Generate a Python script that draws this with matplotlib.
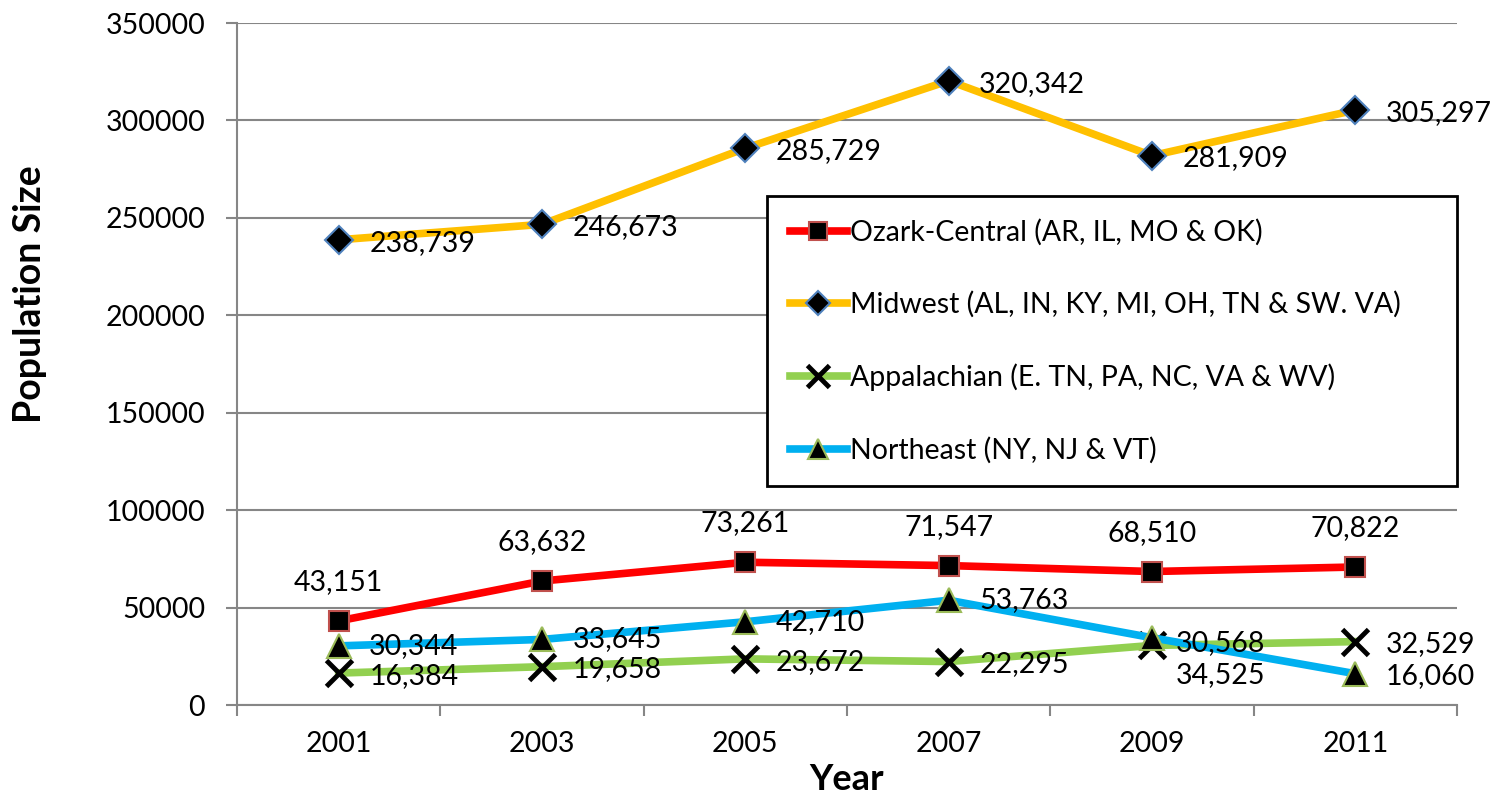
import numpy as np
import matplotlib
matplotlib.use('Agg')
import matplotlib.pyplot as plt

years = ['2001', '2003', '2005', '2007', '2009', '2011']
ozark = [43151, 63632, 73261, 71547, 68510, 70822]
midwest = [238739, 246673, 285729, 320342, 281909, 305297]
appalachian = [16384, 19658, 23672, 22295, 30568, 32529]
northeast = [30344, 33645, 42710, 53763, 34525, 16060]

names = ['Ozark-Central (AR, IL, MO & OK)',
         'Midwest (AL, IN, KY, MI, OH, TN & SW. VA)',
         'Appalachian (E. TN, PA, NC, VA & WV)',
         'Northeast (NY, NJ & VT)']

plt.rcParams['font.family'] = ['Lato', 'DejaVu Sans']
grey = '#868686'
fs = 20.5

fig = plt.figure(figsize=(14.97, 8.02), dpi=100)
ax = fig.add_axes([237 / 1497, 1 - 705 / 802, (1457 - 237) / 1497, (705 - 23) / 802])

x = np.arange(len(years))
lw = 5.5
ax.plot(x, ozark, color='#FF0000', lw=lw, marker='s', ms=15, mfc='black',
        mec='#C0504D', mew=1.5, label=names[0], zorder=3)
ax.plot(x, midwest, color='#FFC000', lw=lw, marker='D', ms=14, mfc='black',
        mec='#4F81BD', mew=1.5, label=names[1], zorder=3)
ax.plot(x, appalachian, color='#92D050', lw=lw, marker='x', ms=19, mec='black',
        mew=3.5, label=names[2], zorder=3)
ax.plot(x, northeast, color='#00B0F0', lw=lw, marker='^', ms=17, mfc='black',
        mec='#9BBB59', mew=1.5, label=names[3], zorder=4)

# data labels
for i, v in enumerate(ozark):
    ax.annotate(f'{v:,}', (x[i], v), xytext=(0, 28), textcoords='offset points',
                ha='center', va='center', fontsize=fs, zorder=6)
for i, v in enumerate(midwest):
    ax.annotate(f'{v:,}', (x[i], v), xytext=(22, -2), textcoords='offset points',
                ha='left', va='center', fontsize=fs, zorder=6)
app_off = [(22, -2), (22, -2), (22, -2), (22, -2), (17, 2), (22, -2)]
for i, v in enumerate(appalachian):
    ax.annotate(f'{v:,}', (x[i], v), xytext=app_off[i], textcoords='offset points',
                ha='left', va='center', fontsize=fs, zorder=6)
ne_off = [(22, 0), (22, 0), (22, 0), (22, 0), (17, -27), (22, -2)]
for i, v in enumerate(northeast):
    ax.annotate(f'{v:,}', (x[i], v), xytext=ne_off[i], textcoords='offset points',
                ha='left', va='center', fontsize=fs, zorder=6)

ax.set_xlim(-0.5, 5.5)
ax.set_ylim(0, 350000)
ax.set_yticks(np.arange(0, 350001, 50000))
ax.set_yticklabels([str(v) for v in range(0, 350001, 50000)], fontsize=fs)
ax.yaxis.grid(True, color=grey, lw=1.5)
ax.set_axisbelow(True)

ax.set_xticks(np.arange(-0.5, 6, 1))
ax.set_xticklabels([])
ax.set_xticks(x, minor=True)
ax.set_xticklabels(years, minor=True, fontsize=fs)
ax.tick_params(axis='x', which='major', length=8, width=1.5, color=grey, direction='out')
ax.tick_params(axis='x', which='minor', length=0, pad=19)
ax.tick_params(axis='y', length=8, width=1.5, color=grey, pad=15)

for s in ['top', 'right']:
    ax.spines[s].set_visible(False)
for s in ['left', 'bottom']:
    ax.spines[s].set_color(grey)
    ax.spines[s].set_linewidth(1.5)

fig.text(30 / 1497, 1 - 294 / 802, 'Population Size', rotation=90, ha='center',
         va='center', fontsize=27, fontweight='bold')
fig.text(847 / 1497, 1 - 780 / 802, 'Year', ha='center', va='center',
         fontsize=26, fontweight='bold')

leg = ax.legend(loc='upper left',
                bbox_to_anchor=(767 / 1497, 1 - 196 / 802, (1457 - 767) / 1497, 0),
                bbox_transform=fig.transFigure, mode='expand',
                fontsize=fs, frameon=True, fancybox=False, borderaxespad=0,
                handlelength=2.0, handletextpad=0.1, labelspacing=1.6,
                borderpad=0.8, markerscale=0.85)
leg.get_frame().set_edgecolor('black')
leg.get_frame().set_linewidth(2)
leg.get_frame().set_alpha(1)
leg.set_zorder(7)

fig.savefig('out.png', dpi=100)
